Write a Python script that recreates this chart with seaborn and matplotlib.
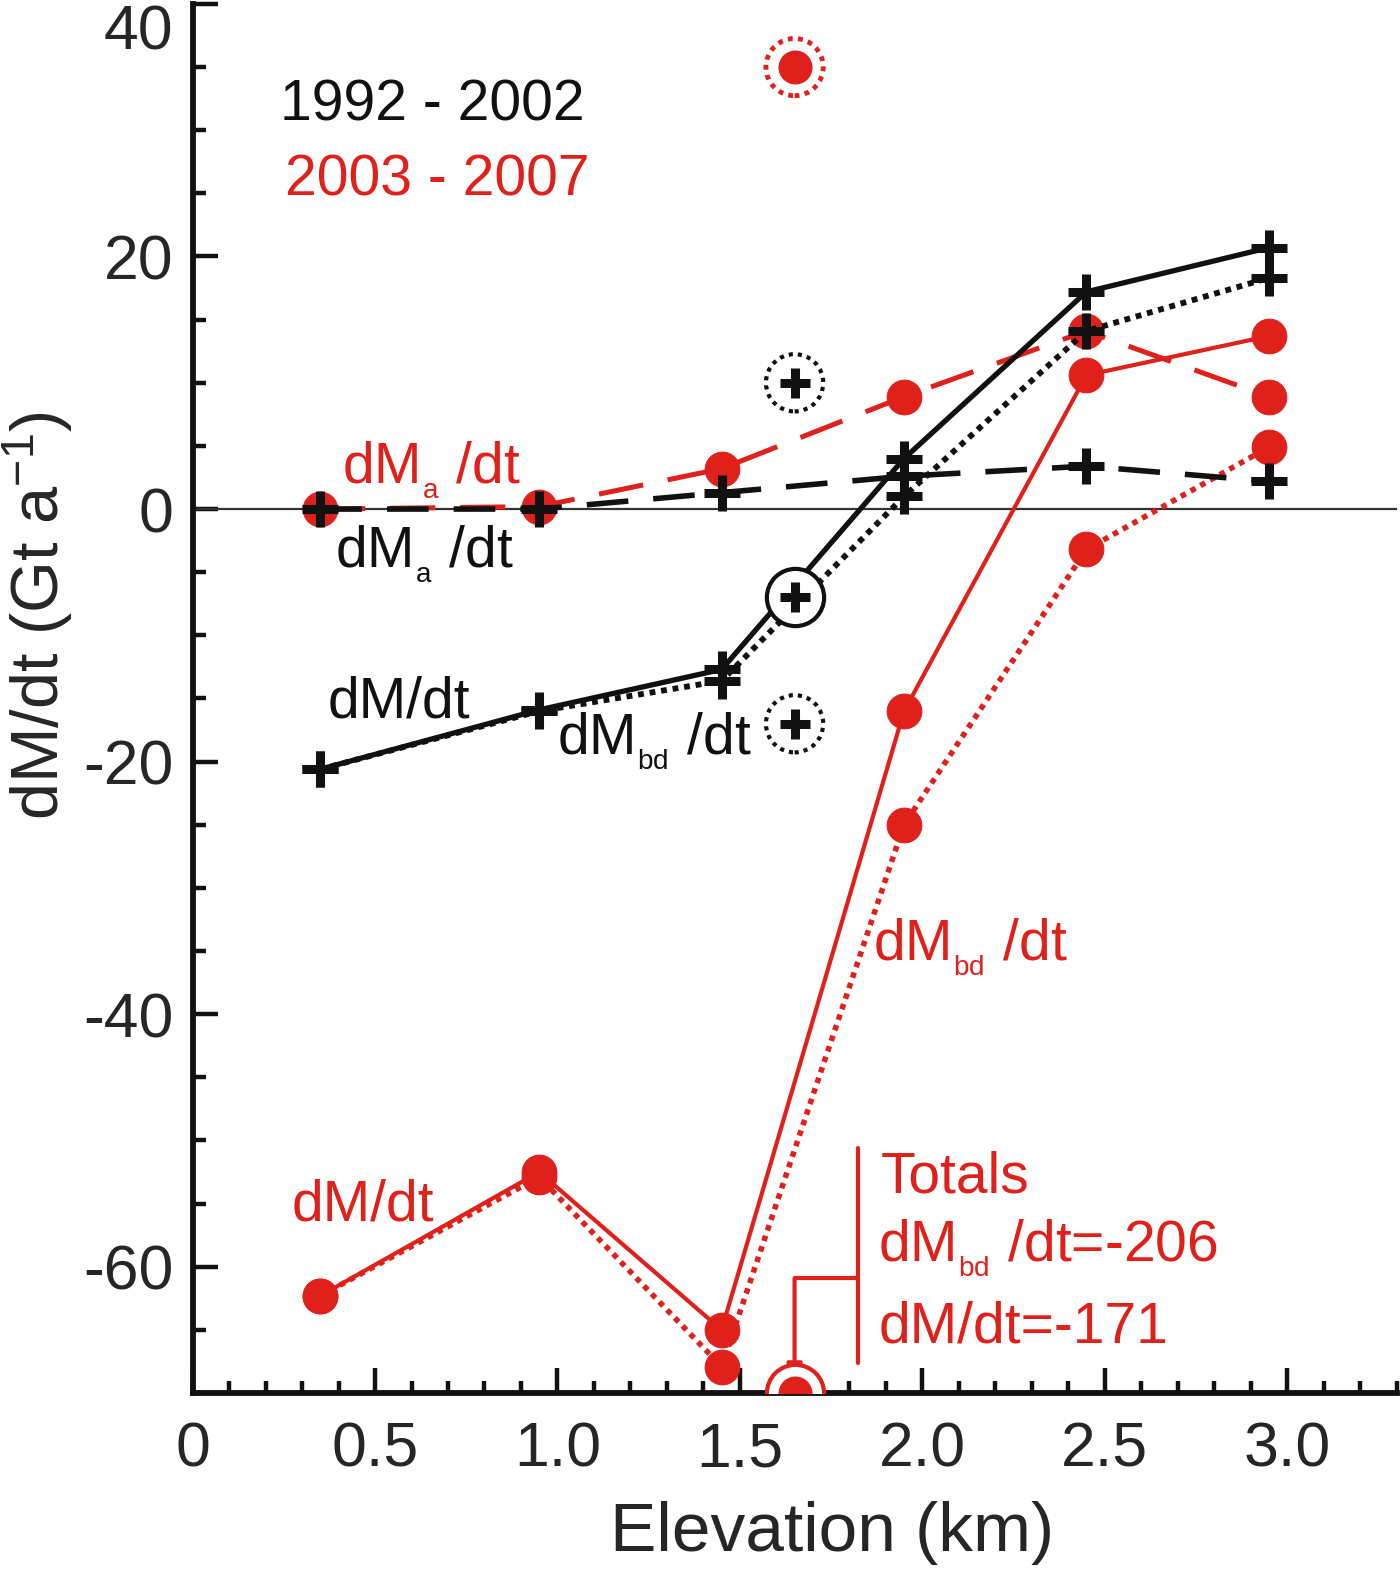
import numpy as np
import matplotlib
matplotlib.use("Agg")
import matplotlib.pyplot as plt
import seaborn as sns
from matplotlib.ticker import MultipleLocator

# elevation band centres (km)
elev = [0.35, 0.95, 1.45, 1.95, 2.45, 2.95]

# 1992 - 2002 (Gt/a)
dm_9202 = [-20.6, -15.9, -12.7, 4.0, 17.2, 20.7]
dmbd_9202 = [-20.6, -16.0, -13.6, 1.0, 14.1, 18.3]
dma_9202 = [0.0, 0.0, 1.3, 2.6, 3.4, 2.2]

# 2003 - 2007 (Gt/a)
dm_0307 = [-62.3, -52.5, -65.0, -16.0, 10.6, 13.7]
dmbd_0307 = [-62.3, -52.9, -67.9, -25.0, -3.2, 4.9]
dma_0307 = [0.0, 0.2, 3.2, 8.9, 14.1, 8.9]

# totals, shown at one x position
tot_x = 1.65
tot_dm_9202 = -7.0
tot_dmbd_9202 = -17.0
tot_dma_9202 = 10.0
tot_dm_0307 = -171.0
tot_dmbd_0307 = -206.0
tot_dma_0307 = 35.0

yticks = [-60, -40, -20, 0, 20, 40]
xticks = [0, 0.5, 1.0, 1.5, 2.0, 2.5, 3.0]
xticklabels = ["0", "0.5", "1.0", "1.5", "2.0", "2.5", "3.0"]

RED = "#e0201b"
BLK = "#111111"

sns.set_style("ticks")
plt.rcParams["font.family"] = ["Liberation Sans", "DejaVu Sans"]
plt.rcParams["mathtext.fontset"] = "custom"
plt.rcParams["mathtext.rm"] = "Liberation Sans"
plt.rcParams["mathtext.it"] = "Liberation Sans:italic"
plt.rcParams["mathtext.default"] = "regular"
plt.rcParams["axes.unicode_minus"] = False

fig = plt.figure(figsize=(14, 15.73), dpi=100)
ax = fig.add_axes([0.1376, 0.1144, 0.8599, 0.8831])

ax.axhline(0, color="#333333", lw=1.6, zorder=1)

# red series first (black drawn over)
sns.lineplot(x=elev, y=dma_0307, ax=ax, color=RED, lw=3.6, ls=(0, (9, 5)),
             marker="o", ms=25, mec=RED, zorder=3)
sns.lineplot(x=elev, y=dmbd_0307, ax=ax, color=RED, lw=4, ls=(0, (1, 1)),
             marker="o", ms=25, mec=RED, zorder=3)
sns.lineplot(x=elev, y=dm_0307, ax=ax, color=RED, lw=3, ls="-",
             marker="o", ms=25, mec=RED, zorder=3)

sns.lineplot(x=elev, y=dma_9202, ax=ax, color=BLK, lw=4, ls=(0, (7.5, 4.5)),
             marker="+", ms=26, mew=6.5, mec=BLK, zorder=4)
sns.lineplot(x=elev, y=dmbd_9202, ax=ax, color=BLK, lw=4.2, ls=(0, (1, 1)),
             marker="+", ms=26, mew=6.5, mec=BLK, zorder=4)
sns.lineplot(x=elev, y=dm_9202, ax=ax, color=BLK, lw=3.8, ls="-",
             marker="+", ms=26, mew=6.5, mec=BLK, zorder=4)

# totals markers
ylo, yhi = -70, 40
sns.scatterplot(x=[tot_x], y=[tot_dm_9202], ax=ax, s=1700, facecolor="white",
                edgecolor=BLK, linewidth=3, zorder=5)
sns.scatterplot(x=[tot_x, tot_x], y=[tot_dmbd_9202, tot_dma_9202], ax=ax, s=1700,
                facecolor="white", edgecolor=BLK, linewidth=3,
                linestyle=(0, (1.0, 1.2)), zorder=5)
ax.plot([tot_x] * 3, [tot_dm_9202, tot_dmbd_9202, tot_dma_9202], ls="none",
        marker="+", ms=22, mew=6.5, color=BLK, zorder=6)

sns.scatterplot(x=[tot_x], y=[tot_dma_0307], ax=ax, s=1700, facecolor="white",
                edgecolor=RED, linewidth=3.5, linestyle=(0, (1.0, 1.1)), zorder=5)
sns.scatterplot(x=[tot_x], y=[max(tot_dm_0307, ylo)], ax=ax, s=1700,
                facecolor="white", edgecolor=RED, linewidth=3, zorder=5)
sns.scatterplot(x=[tot_x, tot_x], y=[tot_dma_0307, max(tot_dm_0307, ylo)], ax=ax,
                s=600, color=RED, edgecolor=RED, linewidth=0, zorder=6)

# annotations
fs = 41
ax.text(0.24, 30.8, "1992 - 2002", color=BLK, fontsize=fs, va="baseline")
ax.text(0.253, 24.8, "2003 - 2007", color=RED, fontsize=fs, va="baseline")
ax.text(0.41, 2.1, r"dM$_{{}_{a}}$ /dt", color=RED, fontsize=fs, va="baseline")
ax.text(0.39, -4.6, r"dM$_{{}_{a}}$ /dt", color=BLK, fontsize=fs, va="baseline")
ax.text(0.37, -16.5, "dM/dt", color=BLK, fontsize=fs, va="baseline")
ax.text(1.0, -19.4, r"dM$_{{}_{bd}}$ /dt", color=BLK, fontsize=fs, va="baseline")
ax.text(1.865, -35.7, r"dM$_{{}_{bd}}$ /dt", color=RED, fontsize=fs, va="baseline")
ax.text(0.27, -56.3, "dM/dt", color=RED, fontsize=fs, va="baseline")
ax.text(1.885, -54.1, "Totals", color=RED, fontsize=fs, va="baseline")
ax.text(1.88, -59.5, r"dM$_{{}_{bd}}$ /dt=%d" % tot_dmbd_0307, color=RED,
        fontsize=fs, va="baseline")
ax.text(1.88, -66.0, "dM/dt=%d" % tot_dm_0307, color=RED, fontsize=fs,
        va="baseline")

# bracket and arrow for totals
ax.plot([1.825, 1.825], [-50.6, -67.6], color=RED, lw=3, zorder=4)
ax.plot([1.825, tot_x], [-60.9, -60.9], color=RED, lw=3, zorder=4)
ax.annotate("", xy=(tot_x, -68.9), xytext=(tot_x, -60.9),
            arrowprops=dict(arrowstyle="-|>", color=RED, lw=3,
                            mutation_scale=22, shrinkA=0, shrinkB=0), zorder=4)

ax.set_xlim(0, 3.3)
ax.set_ylim(ylo, yhi)
ax.set_xticks(xticks)
ax.set_xticklabels(xticklabels)
ax.set_yticks(yticks)
ax.xaxis.set_minor_locator(MultipleLocator(0.1))
ax.yaxis.set_minor_locator(MultipleLocator(5))
ax.tick_params(which="major", direction="in", length=18, width=3.2,
               labelsize=45, color=BLK)
ax.tick_params(which="minor", direction="in", length=9, width=3.2, color=BLK)
ax.tick_params(axis="x", which="major", pad=20)
ax.tick_params(axis="y", which="major", pad=14)

sns.despine(ax=ax)
for side in ["left", "bottom"]:
    ax.spines[side].set_linewidth(4.2)
    ax.spines[side].set_color(BLK)

ax.set_xlabel("Elevation (km)", fontsize=50)
ax.set_ylabel(r"dM/dt (Gt a$^{-1}$)", fontsize=48)
ax.xaxis.set_label_coords(0.531, -0.078)
ax.yaxis.set_label_coords(-0.098, 0.56)

for lab in ax.get_yticklabels():
    if lab.get_text() == "40":
        lab.set_va("top")

fig.savefig("out.png", dpi=100)
